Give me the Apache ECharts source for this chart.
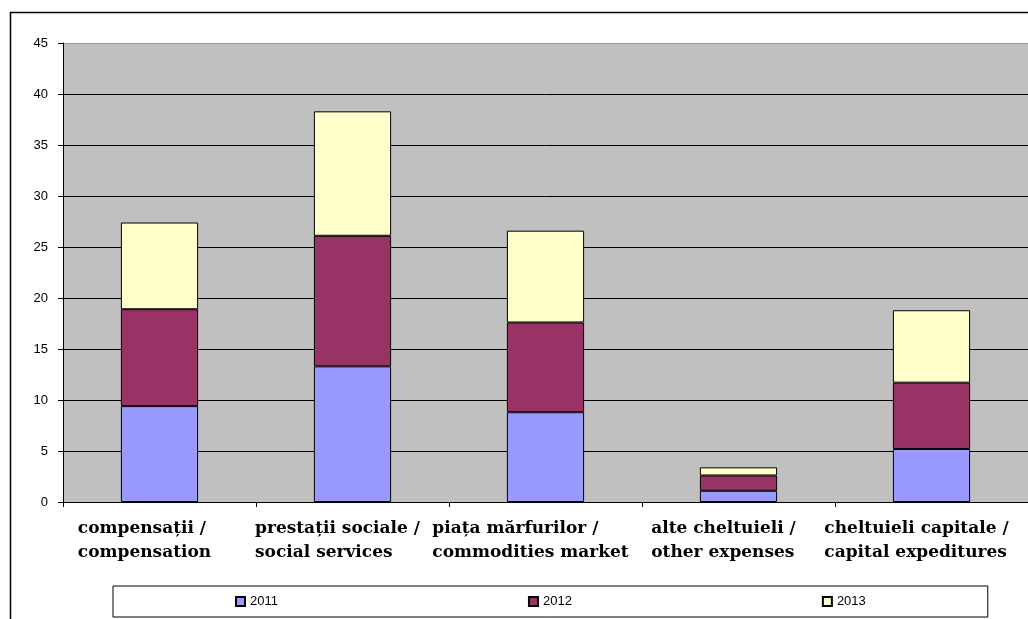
<!DOCTYPE html>
<html>
<head>
<meta charset="utf-8">
<script src="https://cdn.jsdelivr.net/npm/echarts@6/dist/echarts.min.js"></script>
<style>
html,body{margin:0;padding:0;background:#fff;}
#c{width:1028px;height:619px;}
</style>
</head>
<body>
<div id="c"></div>
<script>
const categories = [
  'compensații /\ncompensation',
  'prestații sociale /\nsocial services',
  'piața mărfurilor /\ncommodities market',
  'alte cheltuieli /\nother expenses',
  'cheltuieli capitale /\ncapital expeditures'
];
const seriesNames = ['2011', '2012', '2013'];
const values2011 = [9.4, 13.3, 8.8, 1.1, 5.2];
const values2012 = [9.5, 12.8, 8.8, 1.5, 6.5];
const values2013 = [8.5, 12.2, 9.0, 0.8, 7.1];
const yTicks = [0, 5, 10, 15, 20, 25, 30, 35, 40, 45];

const colors = ['#9999ff', '#993366', '#ffffcc'];
const allValues = [values2011, values2012, values2013];

const chart = echarts.init(document.getElementById('c'), null, {renderer: 'canvas'});
const gridColors = yTicks.map((t, i) => i === yTicks.length - 1 ? '#9a9a9a' : '#000000');

chart.setOption({
  animation: false,
  backgroundColor: '#ffffff',
  graphic: [{
    type: 'rect',
    shape: {x: 10.5, y: 12.5, width: 1200, height: 800},
    style: {fill: 'none', stroke: '#000', lineWidth: 1.5},
    silent: true,
    z: 100
  }],
  grid: {
    left: 63, top: 43, right: 0, bottom: 117,
    show: true, backgroundColor: '#c0c0c0', borderWidth: 0,
    containLabel: false
  },
  legend: {
    data: seriesNames,
    left: 113, top: 586,
    padding: [9, 122, 9, 122],
    itemGap: 250,
    itemWidth: 9, itemHeight: 9,
    icon: 'rect',
    borderColor: '#000', borderWidth: 1,
    backgroundColor: '#fff',
    textStyle: {fontFamily: 'Liberation Sans', fontSize: 13, color: '#000'}
  },
  xAxis: {
    type: 'category',
    data: categories,
    axisLine: {lineStyle: {color: '#000', width: 1}},
    axisTick: {show: true, length: 5, lineStyle: {color: '#000'}},
    axisLabel: {
      interval: 0,
      margin: 15,
      align: 'center',
      padding: [0, 30, 0, 0],
      formatter: function (v) {
        return v.split('\n').map(s => '{a|' + s + '}').join('\n');
      },
      rich: {
        a: {
          fontFamily: 'DejaVu Serif', fontWeight: 'bold', fontSize: 17,
          lineHeight: 24, color: '#000', align: 'left'
        }
      }
    }
  },
  yAxis: {
    type: 'value',
    min: 0, max: 45, interval: 5,
    axisLine: {show: true, lineStyle: {color: '#000', width: 1}},
    axisTick: {show: true, length: 5, lineStyle: {color: '#000'}},
    axisLabel: {margin: 15, fontFamily: 'Liberation Sans', fontSize: 13, color: '#000'},
    splitLine: {show: true, lineStyle: {color: gridColors, width: 1}}
  },
  series: seriesNames.map((name, i) => ({
    name: name,
    type: 'bar',
    stack: 'total',
    barWidth: '40%',
    data: allValues[i],
    itemStyle: {color: colors[i], borderColor: '#000', borderWidth: 1}
  }))
});
</script>
</body>
</html>
